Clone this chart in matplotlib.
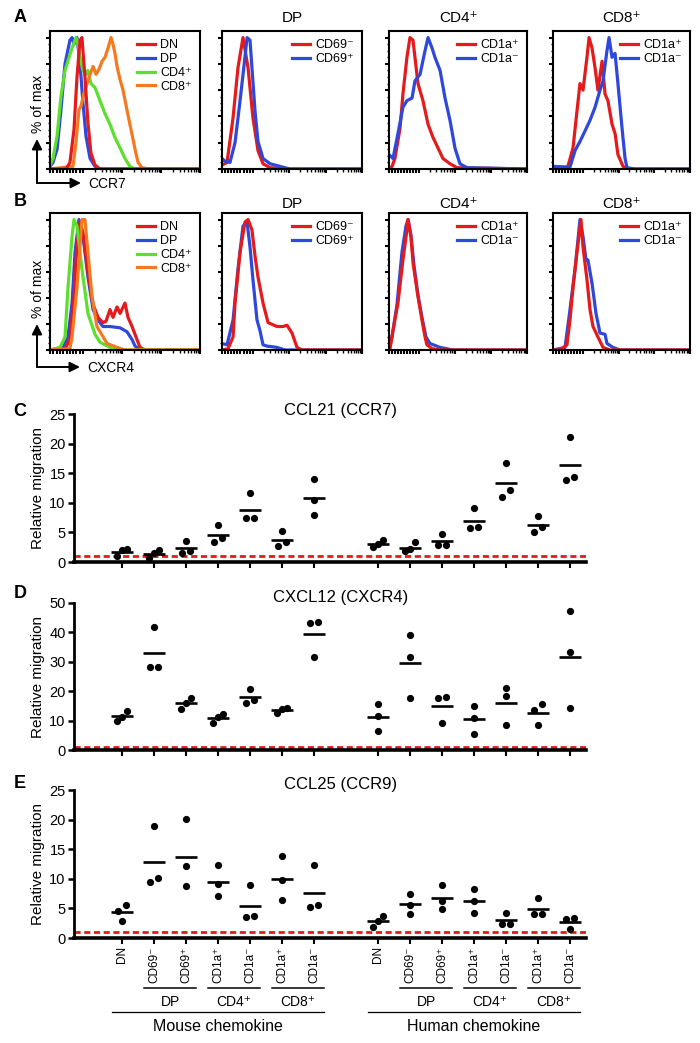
import matplotlib
matplotlib.use('Agg')
import matplotlib.pyplot as plt
from matplotlib.patches import FancyArrowPatch
import numpy as np

plt.rcParams['font.family'] = ['Liberation Sans', 'DejaVu Sans']

# colours
red, blue, green, orange = '#e41a1c', '#2f48dc', '#5ce02b', '#f57a1f'

### histogram traces (x = % of channel range, y = % of max)
# A: CCR7
ccr7_dn = ([0, 10.7, 13.3, 16, 18, 20, 21.3, 23.3, 25.3, 27.3, 30, 33.3, 100],
           [0, 0, 5, 30, 70, 98, 100, 70, 35, 12, 3, 0, 0])
ccr7_dp = ([0, 2, 4.7, 7.3, 10, 13.3, 14.7, 16, 18, 20, 22, 24, 26.7, 30, 33.3, 100],
           [2, 5, 15, 45, 80, 98, 100, 95, 100, 80, 50, 25, 8, 2, 0, 0])
ccr7_cd4 = ([0, 2, 4.7, 7.3, 10, 12.7, 14.7, 17.3, 18.7, 20, 22, 24, 25.3, 27.3, 30,
             33.3, 36.7, 40, 43.3, 46.7, 50, 53.3, 56.7, 100],
            [3, 8, 25, 55, 75, 85, 92, 100, 95, 85, 75, 72, 75, 65, 62,
             52, 42, 34, 24, 16, 8, 2, 0, 0])
ccr7_cd8 = ([0, 15.3, 17.3, 19.3, 20.7, 22.7, 24.7, 26.7, 28.7, 30.7, 32.7, 34.7, 36.7,
             38.7, 40.7, 42, 43.3, 44.7, 46.7, 48.7, 51.3, 54, 56.7, 58.7, 61.3, 66.7, 100],
            [0, 2, 20, 45, 48, 58, 65, 72, 78, 72, 76, 82, 85,
             92, 100, 95, 88, 78, 68, 60, 45, 30, 15, 5, 1, 0, 0])
ccr7_cd69n = ([0, 3.6, 7.9, 11.4, 15, 18.6, 22.1, 25.7, 29.3, 34.3, 48.6, 100],
              [3, 5, 39, 77, 100, 77, 39, 14, 4, 1, 0, 0])
ccr7_cd69p = ([0, 2.1, 5.7, 9.3, 12.9, 16.4, 17.9, 20, 21.4, 23.6, 25.7, 29.3, 34.3, 41.4, 48.6, 100],
              [8, 6, 5, 20, 52, 85, 100, 98, 77, 44, 21, 8, 4, 2, 0, 0])
ccr7_cd4_1ap = ([0, 2.2, 4.3, 8, 10.1, 13, 15.2, 17.4, 18.8, 21, 24.6, 28.3, 31.9, 35.5, 39.1, 44.2, 49.3, 100],
                [0, 2, 8, 31, 57, 85, 100, 98, 85, 65, 52, 34, 24, 16, 8, 4, 1, 0])
ccr7_cd4_1an = ([0, 2.9, 6.5, 10.1, 13, 16.7, 18.8, 22.5, 26.1, 28.3, 31.2, 33.3, 37, 40.6,
                 44.2, 47.8, 51.4, 56.5, 100],
                [11, 8, 27, 47, 52, 54, 67, 72, 90, 100, 92, 85, 75, 54, 37, 16, 4, 1, 0])
ccr7_cd8_1ap = ([0, 8.8, 10.9, 14.6, 17.5, 19.7, 21.9, 24.8, 26.3, 28.5, 30.7, 32.8, 35.8, 38,
                 40.1, 43.1, 45.3, 47.4, 51.1, 54, 100],
                [0, 0, 2, 16, 44, 65, 60, 85, 100, 92, 77, 60, 82, 57, 52, 34, 27, 11, 2, 0, 0])
ccr7_cd8_1an = ([0, 12.4, 16.1, 19.7, 23.4, 27, 30.7, 34.3, 36.5, 39.4, 40.9, 43.1, 45.3, 47.4,
                 50.4, 52.6, 54, 59.9, 100],
                [2, 1.5, 14, 21, 29, 37, 47, 60, 67, 90, 100, 85, 88, 65, 31, 8, 1, 0, 0])

# B: CXCR4
cxcr4_dn = ([0, 10, 13.3, 16, 18, 20, 22, 25.3, 28.7, 32, 35.3, 37.3, 40, 42, 44.7, 46.7,
             50, 52, 54.7, 58, 60, 63.3, 100],
            [0, 1, 8, 40, 80, 98, 90, 60, 35, 25, 21, 22, 31, 25, 33, 28, 36, 25, 18, 8, 2, 0, 0])
cxcr4_dp = ([0, 8.7, 12, 14.7, 16.7, 19.3, 22, 25.3, 28.7, 32, 35.3, 40, 46.7, 51.3, 54.7, 56.7, 60, 100],
            [0, 2, 10, 36, 75, 100, 87, 56, 31, 23, 18, 18, 17, 14, 8, 3, 0, 0])
cxcr4_cd4 = ([0, 6.7, 10, 12, 14.7, 16, 18, 21.3, 25.3, 30, 33.3, 40, 46.7, 100],
             [0, 2, 10, 48, 87, 100, 95, 62, 28, 12, 6, 2, 0, 0])
cxcr4_cd8 = ([0, 13.3, 14.7, 18, 21.3, 23.3, 25.3, 28, 31.3, 38, 44.7, 50, 100],
             [0, 1, 10, 48, 100, 100, 75, 41, 18, 5, 2, 0, 0])
cxcr4_cd69n = ([0, 4.3, 7.9, 9.3, 12.9, 16.4, 18.6, 21.4, 23.6, 25.7, 29.3, 32.9, 39.3, 43.6,
                46.4, 50, 53.6, 57.1, 100],
               [0, 1, 10, 36, 75, 98, 100, 92, 72, 56, 36, 21, 18, 18, 19, 13, 2, 0, 0])
cxcr4_cd69p = ([0, 3.6, 7.9, 11.4, 15, 17.9, 20, 22.1, 25, 27.1, 29.3, 32.1, 39.3, 45, 100],
               [5, 4, 23, 62, 95, 98, 79, 54, 23, 15, 4, 3, 2, 0, 0])
cxcr4_cd4_1ap = ([0, 0.7, 2.9, 6.5, 10.1, 13, 13.8, 15.9, 17.4, 21, 23.9, 26.1, 27.5, 31.2, 37, 100],
                 [0, 1, 15, 36, 69, 92, 100, 87, 67, 41, 23, 10, 4, 1, 0, 0])
cxcr4_cd4_1an = ([0, 2.2, 5.8, 9.4, 12.3, 13.8, 15.9, 18.1, 21, 23.9, 26.8, 29.7, 37, 46.4, 100],
                 [0, 10, 35, 75, 95, 100, 88, 65, 42, 25, 10, 5, 2, 0, 0])
cxcr4_cd8_1ap = ([0, 5.1, 10.2, 12.4, 14.6, 17.5, 20.4, 21.9, 24.8, 27, 29.2, 32.8, 36.5, 41.6, 100],
                 [0, 0, 4, 23, 48, 75, 100, 79, 54, 31, 18, 10, 2, 0, 0])
cxcr4_cd8_1an = ([0, 8.8, 12.4, 16.1, 19.7, 21.9, 24.1, 25.5, 28.5, 31.4, 34.3, 38, 39.4, 43.8, 48.9, 100],
                 [0, 2, 31, 62, 100, 87, 69, 69, 51, 28, 13, 12, 5, 2, 0, 0])

hist_titles = [None, 'DP', 'CD4\u207a', 'CD8\u207a']

### migration data (3 experiments per population)
categories = ['DN', 'CD69\u207b', 'CD69\u207a', 'CD1a\u207a', 'CD1a\u207b', 'CD1a\u207a', 'CD1a\u207b']
subgroups = [('DP', 1, 2), ('CD4\u207a', 3, 4), ('CD8\u207a', 5, 6)]

ccl21_mouse = [[2.2, 1.0, 2.0], [2.1, 0.7, 1.5], [3.6, 1.5, 1.9], [6.2, 3.4, 4.1],
               [11.7, 7.4, 7.5], [5.3, 2.7, 3.4], [14.1, 10.4, 7.9]]
ccl21_human = [[3.8, 2.5, 3.0], [3.3, 1.8, 2.2], [4.7, 2.8, 2.9], [9.1, 5.8, 5.9],
               [16.7, 11.0, 12.1], [7.7, 5.0, 5.9], [21.1, 13.9, 14.3]]
cxcl12_mouse = [[13.3, 9.9, 11.2], [41.9, 28.3, 28.4], [17.8, 14.0, 15.9], [12.3, 9.1, 11.1],
                [20.6, 16.1, 17.0], [14.2, 12.7, 13.8], [43.7, 43.1, 31.6]]
cxcl12_human = [[15.6, 11.7, 6.6], [39.1, 31.7, 17.8], [18.1, 17.6, 9.3], [15.1, 10.8, 5.5],
                [21.0, 18.4, 8.5], [15.5, 13.5, 8.6], [47.3, 33.2, 14.4]]
ccl25_mouse = [[5.6, 4.6, 2.9], [19.0, 9.4, 10.1], [20.1, 12.2, 8.8], [12.4, 9.1, 7.1],
               [9.0, 3.6, 3.7], [13.8, 9.8, 6.4], [12.3, 5.2, 5.5]]
ccl25_human = [[3.8, 2.9, 1.8], [7.4, 5.6, 4.1], [9.0, 6.3, 4.9], [8.3, 6.2, 4.2],
               [4.3, 2.3, 2.3], [6.8, 4.0, 4.0], [3.3, 3.2, 1.5]]
baseline = 1.0

### layout helpers (pixel boxes in a 700 x 1043 canvas)
W, H = 700, 1043
fig = plt.figure(figsize=(7, 10.43), dpi=100)


def box(l, t, r, b):
    return [l / W, 1 - b / H, (r - l) / W, (b - t) / H]


def fpt(x, y):
    return (x / W, 1 - y / H)


def arrow(p0, p1):
    a = FancyArrowPatch(fpt(*p0), fpt(*p1), transform=fig.transFigure,
                        arrowstyle='-|>', mutation_scale=15, lw=1.4,
                        color='black', shrinkA=0, shrinkB=0)
    fig.add_artist(a)


# log-ish ticks for the flow axes
lin_ticks = list(np.arange(0, 22, 2.2))
dec_ticks = [22, 48, 74, 100]
minor_ticks = [d + 26 * np.log10(k) for d in dec_ticks[:-1] for k in range(2, 10)]

### histograms
hist_cols = [(50, 200), (222, 362), (389, 527), (553, 690)]
hist_rows = [
    (31, 169, 13, [
        [(ccr7_dp, 'DP', blue), (ccr7_cd4, 'CD4\u207a', green), (ccr7_cd8, 'CD8\u207a', orange),
         (ccr7_dn, 'DN', red)],
        [(ccr7_cd69n, 'CD69\u207b', red), (ccr7_cd69p, 'CD69\u207a', blue)],
        [(ccr7_cd4_1ap, 'CD1a\u207a', red), (ccr7_cd4_1an, 'CD1a\u207b', blue)],
        [(ccr7_cd8_1ap, 'CD1a\u207a', red), (ccr7_cd8_1an, 'CD1a\u207b', blue)]]),
    (213, 350, 9, [
        [(cxcr4_dp, 'DP', blue), (cxcr4_dn, 'DN', red), (cxcr4_cd4, 'CD4\u207a', green),
         (cxcr4_cd8, 'CD8\u207a', orange)],
        [(cxcr4_cd69p, 'CD69\u207a', blue), (cxcr4_cd69n, 'CD69\u207b', red)],
        [(cxcr4_cd4_1an, 'CD1a\u207b', blue), (cxcr4_cd4_1ap, 'CD1a\u207a', red)],
        [(cxcr4_cd8_1an, 'CD1a\u207b', blue), (cxcr4_cd8_1ap, 'CD1a\u207a', red)]]),
]
legend_order = [['DN', 'DP', 'CD4\u207a', 'CD8\u207a'], ['CD69\u207b', 'CD69\u207a'],
                ['CD1a\u207a', 'CD1a\u207b'], ['CD1a\u207a', 'CD1a\u207b']]

for top, bot, tpad, panels in hist_rows:
    for j, ((l, r), curves) in enumerate(zip(hist_cols, panels)):
        ax = fig.add_axes(box(l, top, r, bot))
        handles = {}
        for (xs, ys), lab, col in curves:
            ln, = ax.plot(xs, ys, color=col, lw=2.3)
            handles[lab] = ln
        ax.set_xlim(0, 100)
        ax.set_ylim(0, 105)
        ax.set_yticks(range(0, 101, 20))
        ax.set_yticks(range(0, 101, 5), minor=True)
        ax.set_xticks(lin_ticks + dec_ticks)
        ax.set_xticks(minor_ticks, minor=True)
        ax.set_xticklabels([])
        ax.set_yticklabels([])
        ax.tick_params(which='major', length=3, width=1.5, direction='out')
        ax.tick_params(which='minor', length=1.8, width=1.0, direction='out')
        for s in ax.spines.values():
            s.set_linewidth(1.5)
        order = legend_order[j]
        ax.legend([handles[k] for k in order], order, loc='upper right', frameon=False,
                  fontsize=9, handlelength=1.5, handletextpad=0.4, labelspacing=0.15,
                  borderaxespad=0.25)
        if hist_titles[j]:
            ax.text(0.5, 1 + tpad / (bot - top), hist_titles[j], transform=ax.transAxes,
                    ha='center', va='center', fontsize=11)

# axis cartoons for the flow plots
fig.text(38 / W, 1 - 104 / H, '% of max', rotation=90, ha='center', va='center', fontsize=10)
arrow((37, 183), (37, 139))
arrow((37, 183), (81, 183))
fig.text(88 / W, 1 - 184 / H, 'CCR7', ha='left', va='center', fontsize=10)
fig.text(38 / W, 1 - 289 / H, '% of max', rotation=90, ha='center', va='center', fontsize=10)
arrow((37, 367), (37, 324))
arrow((37, 367), (80, 367))
fig.text(87 / W, 1 - 368 / H, 'CXCR4', ha='left', va='center', fontsize=10)

### migration dot plots
positions = list(range(1, 8)) + list(range(9, 16))


def spread(vals, ymax):
    v = np.asarray(vals)
    order = np.argsort(v)
    clusters, cur = [], [order[0]]
    for i in order[1:]:
        if v[i] - v[cur[-1]] < ymax * 0.045:
            cur.append(i)
        else:
            clusters.append(cur)
            cur = [i]
    clusters.append(cur)
    offs = np.zeros(len(v))
    for c in clusters:
        step = 0.28 if len(c) == 2 else 0.16
        for k, i in enumerate(c):
            offs[i] = (k - (len(c) - 1) / 2) * step
    return offs


dot_panels = [
    (414, 562, 25, 5, 'CCL21 (CCR7)', ccl21_mouse, ccl21_human, 1.027),
    (603, 750, 50, 10, 'CXCL12 (CXCR4)', cxcl12_mouse, cxcl12_human, 1.04),
    (790, 938, 25, 5, 'CCL25 (CCR9)', ccl25_mouse, ccl25_human, 1.034),
]

for top, bot, ymax, step, title, mouse, human, ty in dot_panels:
    ax = fig.add_axes(box(74, top, 586, bot))
    for pos, vals in zip(positions, mouse + human):
        ax.plot(pos + spread(vals, ymax), vals, 'o', color='black', ms=5.2,
                mew=0, clip_on=False, zorder=3)
        m = np.mean(vals)
        ax.plot([pos - 0.33, pos + 0.33], [m, m], color='black', lw=1.9,
                solid_capstyle='butt', zorder=3)
    ax.axhline(baseline, color=red, lw=2.0, ls=(0, (2.2, 1.3)), zorder=2)
    ax.set_xlim(-0.5, 15.5)
    ax.set_ylim(0, ymax)
    ax.set_yticks(range(0, ymax + 1, step))
    ax.set_xticks(positions)
    ax.set_xticklabels([])
    ax.tick_params(axis='y', length=4.5, width=1.8, labelsize=10.5, pad=1.5)
    ax.tick_params(axis='x', length=4, width=1.5)
    ax.spines['top'].set_visible(False)
    ax.spines['right'].set_visible(False)
    ax.spines['left'].set_linewidth(2.0)
    ax.spines['bottom'].set_linewidth(2.6)
    ax.set_ylabel('Relative migration', fontsize=11, labelpad=3)
    ax.text(0.52, ty, title, transform=ax.transAxes, ha='center', va='center', fontsize=12)

# category labels under the last panel
ax.set_xticklabels(categories * 2, rotation=90, fontsize=8.5)
ax.tick_params(axis='x', pad=2)
trans = ax.get_xaxis_transform()
for off, name in [(0, 'Mouse chemokine'), (8, 'Human chemokine')]:
    for lab, i0, i1 in subgroups:
        x0, x1 = positions[i0] + off - 0.3, positions[i1] + off + 0.3
        ax.plot([x0, x1], [-0.338, -0.338], color='black', lw=1.1, transform=trans, clip_on=False)
        ax.text((x0 + x1) / 2, -0.43, lab, transform=trans, ha='center', va='center', fontsize=10)
    x0, x1 = positions[0] + off - 0.3, positions[6] + off + 0.3
    ax.plot([x0, x1], [-0.5, -0.5], color='black', lw=0.9, transform=trans, clip_on=False)
    ax.text((x0 + x1) / 2, -0.595, name, transform=trans, ha='center', va='center', fontsize=11.5)

# panel letters
for lab, y in [('A', 17), ('B', 202), ('C', 411), ('D', 594), ('E', 783)]:
    fig.text(20 / W, 1 - y / H, lab, ha='center', va='center', fontsize=13, fontweight='bold')

fig.savefig('out.png', dpi=100)
